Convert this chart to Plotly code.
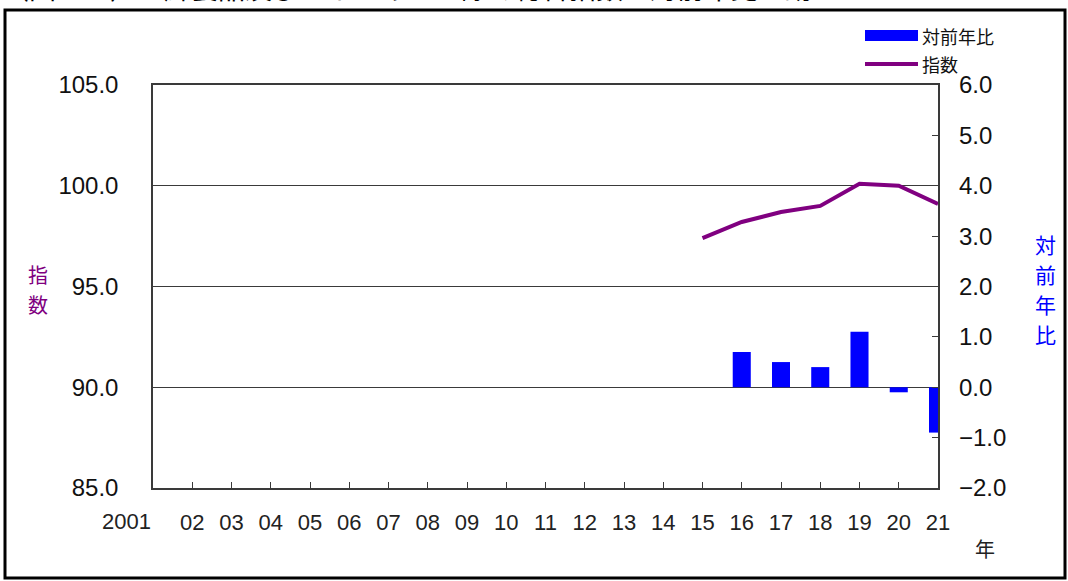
import plotly.graph_objects as go

# ---- data ----
years = [2015, 2016, 2017, 2018, 2019, 2020, 2021]
index_values = [97.4, 98.2, 98.7, 99.0, 100.1, 100.0, 99.1]
bar_years = [2016, 2017, 2018, 2019, 2020, 2021]
yoy_values = [0.7, 0.5, 0.4, 1.1, -0.1, -0.9]
tick_years = list(range(2002, 2022))
tick_labels = ["02", "03", "04", "05", "06", "07", "08", "09", "10", "11",
               "12", "13", "14", "15", "16", "17", "18", "19", "20", "21"]
first_label = "2001"
title_text = "（図　５）生鮮食品及びエネルギーを除く総合指数と対前年比の動き"
left_title = "指数"
right_title = "対前年比"

W, H = 1068, 581
L, R, T, B = 153, 938, 85, 488


def px(x):
    return (x - L) / (R - L)


def py(y):
    return (B - y) / (B - T)


NUM_FONT = "Liberation Sans, Arial, sans-serif"
JP_FONT = "Noto Sans CJK JP, sans-serif"
AXIS_COLOR = "#3a3a3a"

fig = go.Figure()
fig.add_trace(go.Bar(x=bar_years, y=yoy_values, yaxis="y2", marker_color="#0000ff",
                     marker_line_width=0, width=0.46, name="対前年比", showlegend=False))
fig.add_trace(go.Scatter(x=years, y=index_values, mode="lines",
                         line=dict(color="#800080", width=4), name="指数", showlegend=False))

fig.update_layout(
    width=W, height=H,
    margin=dict(l=L, r=W - R, t=T, b=H - B),
    paper_bgcolor="white", plot_bgcolor="white",
    xaxis=dict(range=[2001, 2021], tickvals=tick_years, ticktext=tick_labels,
               ticks="inside", ticklen=6, tickcolor=AXIS_COLOR, showgrid=False,
               showline=True, linecolor=AXIS_COLOR, linewidth=1.5, mirror=True,
               tickfont=dict(family=NUM_FONT, size=22, color="#222"),
               ticklabelstandoff=14, zeroline=False),
    yaxis=dict(range=[85, 105], dtick=5, tickformat=".1f", ticks="inside", ticklen=6,
               tickcolor=AXIS_COLOR, showgrid=True, gridcolor=AXIS_COLOR, gridwidth=1,
               showline=True, linecolor=AXIS_COLOR, linewidth=1.5, mirror=True,
               tickfont=dict(family=NUM_FONT, size=24, color="#111"),
               ticklabelstandoff=28, zeroline=False),
    yaxis2=dict(range=[-2, 6], dtick=1, tickformat=".1f", overlaying="y", side="right",
                ticks="inside", ticklen=6, tickcolor=AXIS_COLOR, showgrid=False,
                showline=False, zeroline=False,
                tickfont=dict(family=NUM_FONT, size=24, color="#111"),
                ticklabelstandoff=20),
    bargap=0.5,
)

shapes = [
    # outer frame
    dict(type="rect", xref="paper", yref="paper", x0=px(5), x1=px(1065), y0=py(10), y1=py(578),
         line=dict(color="black", width=3), fillcolor="rgba(0,0,0,0)", layer="below"),
    # legend symbols
    dict(type="rect", xref="paper", yref="paper", x0=px(865), x1=px(918), y0=py(30), y1=py(41),
         line=dict(width=0), fillcolor="#0000ff"),
    dict(type="line", xref="paper", yref="paper", x0=px(865), x1=px(918), y0=py(64), y1=py(64),
         line=dict(color="#800080", width=4)),
]
fig.update_layout(shapes=shapes)

ann = [
    dict(text="対前年比", x=px(920), y=py(36), xanchor="left", yanchor="middle",
         font=dict(family=JP_FONT, size=18, color="#111")),
    dict(text="指数", x=px(920), y=py(64), xanchor="left", yanchor="middle",
         font=dict(family=JP_FONT, size=18, color="#111")),
    dict(text="年", x=px(985), y=py(548), xanchor="center", yanchor="middle",
         font=dict(family=JP_FONT, size=20, color="#222")),
    dict(text=first_label, x=px(153), y=py(521), xanchor="right", yanchor="middle",
         font=dict(family=NUM_FONT, size=22, color="#222")),
    dict(text=title_text, x=px(0), y=py(9), xanchor="left", yanchor="bottom",
         font=dict(family=JP_FONT, size=27, color="#000")),
]
# vertical axis titles, one character per line
for i, ch in enumerate(left_title):
    ann.append(dict(text=ch, x=px(38), y=py(274 + i * 30), xanchor="center", yanchor="middle",
                    font=dict(family=JP_FONT, size=20, color="#800080")))
for i, ch in enumerate(right_title):
    ann.append(dict(text=ch, x=px(1045), y=py(244 + i * 30), xanchor="center", yanchor="middle",
                    font=dict(family=JP_FONT, size=21, color="#0000ff")))
for a in ann:
    a.update(xref="paper", yref="paper", showarrow=False)
fig.update_layout(annotations=ann)

fig.write_html("out.html", config={"displayModeBar": False},
               post_script="document.body.style.margin='0';document.body.style.overflow='hidden';")
